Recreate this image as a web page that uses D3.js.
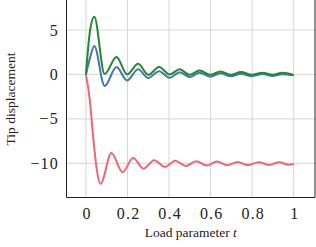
<!DOCTYPE html>
<html><head><meta charset="utf-8">
<script src="https://cdn.jsdelivr.net/npm/d3@7"></script>
<style>body{margin:0;background:#fff}svg{display:block}</style>
</head><body>
<svg id="c" width="316" height="247"></svg>
<script>
const xTicks = [0, 0.2, 0.4, 0.6, 0.8, 1];
const yTicks = [-10, -5, 0, 5];
const tGB = [0, 0.019, 0.04, 0.09, 0.147, 0.198, 0.251, 0.30, 0.352, 0.403, 0.451, 0.5, 0.547, 0.598, 0.647, 0.697, 0.747, 0.798, 0.85, 0.898, 0.946, 1.0];
const green = [0, 4.8, 6.5, 0.05, 1.97, 0.0, 1.2, -0.05, 0.83, 0.0, 0.57, -0.05, 0.45, -0.05, 0.34, -0.05, 0.26, -0.05, 0.2, -0.03, 0.19, -0.05];
const blue = [0, 1.8, 3.2, -1.3, 0.83, -0.68, 0.57, -0.4, 0.35, -0.38, 0.25, -0.3, 0.18, -0.25, 0.12, -0.22, 0.08, -0.2, 0.05, -0.18, 0.03, -0.1];
const tRed = [0, 0.019, 0.035, 0.051, 0.07, 0.123, 0.176, 0.227, 0.278, 0.328, 0.38, 0.43, 0.48, 0.531, 0.582, 0.63, 0.68, 0.73, 0.78, 0.832, 0.88, 0.93, 0.975, 1.0];
const red = [0, -2.95, -7.1, -10.5, -12.3, -8.85, -11.0, -9.4, -10.6, -9.66, -10.4, -9.7, -10.3, -9.77, -10.25, -9.8, -10.22, -9.85, -10.2, -9.87, -10.18, -9.88, -10.15, -10.08];

const svg = d3.select("#c");
const L = 66, R = 315.5, T = 0, B = 198;
const x = d3.scaleLinear().domain([-0.096, 1.105]).range([L, R]);
const y = d3.scaleLinear().domain([-13.9, 8.37]).range([B, T]);

const font = "'Liberation Serif', 'Times New Roman', serif";
// grid
svg.append("g").selectAll("line").data(xTicks).join("line")
  .attr("x1", d => x(d)).attr("x2", d => x(d)).attr("y1", T).attr("y2", B)
  .attr("stroke", "#d6d6d6").attr("stroke-width", 1);
svg.append("g").selectAll("line").data(yTicks).join("line")
  .attr("x1", L).attr("x2", R).attr("y1", d => y(d)).attr("y2", d => y(d))
  .attr("stroke", "#d6d6d6").attr("stroke-width", 1);

const line = (ts) => d3.line().x((d, i) => x(ts[i])).y(d => y(d)).curve(d3.curveMonotoneX);
const series = [[tRed, red, "#EE6677"], [tGB, blue, "#4477AA"], [tGB, green, "#228833"]];
series.forEach(([ts, vs, c]) => {
  svg.append("path").attr("d", line(ts)(vs)).attr("fill", "none")
    .attr("stroke", c).attr("stroke-width", 2).attr("stroke-linejoin", "round");
});

// frame
svg.append("path").attr("d", `M${L+0.5},${T}V${B-0.5}H${R-0.5}V${T}`)
  .attr("fill", "none").attr("stroke", "#222").attr("stroke-width", 1);

// tick labels
const xa = d3.axisBottom(x).tickValues(xTicks).tickSize(0).tickPadding(10)
  .tickFormat(d => d === 0 || d === 1 ? String(d) : d3.format(".1f")(d));
const gx = svg.append("g").attr("transform", `translate(0,${B})`).call(xa);
gx.select(".domain").remove();
gx.selectAll("text").attr("font-family", font).attr("font-size", 16).attr("letter-spacing", "1.2px")
  .attr("dx", "0.6px").attr("fill", "#222");

const ya = d3.axisLeft(y).tickValues(yTicks).tickSize(0).tickPadding(7)
  .tickFormat(d => d < 0 ? "\u2212" + Math.abs(d) : String(d));
const gy = svg.append("g").attr("transform", `translate(${L},0)`).call(ya);
gy.select(".domain").remove();
gy.selectAll("text").attr("font-family", font).attr("font-size", 16).attr("letter-spacing", "1.2px")
  .attr("fill", "#222");

// axis titles
const xt = svg.append("text").attr("x", (L + R) / 2).attr("y", 237)
  .attr("text-anchor", "middle").attr("font-family", font).attr("font-size", 13.5).attr("fill", "#222");
xt.append("tspan").text("Load parameter ");
xt.append("tspan").attr("font-style", "italic").text("t");

svg.append("text").attr("transform", `translate(15,99) rotate(-90)`)
  .attr("text-anchor", "middle").attr("font-family", font).attr("font-size", 13.5).attr("fill", "#222")
  .text("Tip displacement");
</script>
</body></html>
